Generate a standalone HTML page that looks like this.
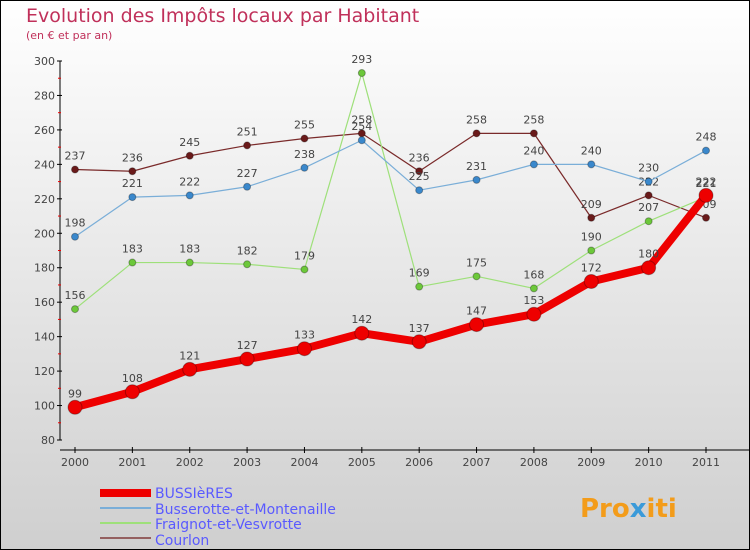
<!DOCTYPE html>
<html><head><meta charset="utf-8"><style>
body{margin:0;background:#fff}
#c{width:750px;height:550px;position:relative;overflow:hidden}
text{font-family:"DejaVu Sans","Liberation Sans",sans-serif}
</style></head><body>
<div id="c">
<svg id="s" width="750" height="550" xmlns="http://www.w3.org/2000/svg">
<defs><linearGradient id="bg" x1="0" y1="0" x2="0" y2="1"><stop offset="0" stop-color="#ffffff"/><stop offset="1" stop-color="#cfcfcf"/></linearGradient></defs>
<rect x="0.5" y="0.5" width="749" height="549" fill="url(#bg)" stroke="#000"/>
<text x="26" y="22" font-size="19" fill="#c0305a">Evolution des Impôts locaux par Habitant</text>
<text x="26" y="39" font-size="11" fill="#c0305a">(en € et par an)</text>
<g id="axes"></g><g id="series"></g>
<g>
<rect x="100" y="489" width="51" height="8" fill="#e00"/>
<text x="155" y="498" font-size="14" fill="#5a5aff">BUSSIèRES</text>
<rect x="100" y="507" width="51" height="2" fill="#7aaed8"/>
<text x="155" y="514" font-size="14" fill="#5a5aff">Busserotte-et-Montenaille</text>
<rect x="100" y="522" width="51" height="2" fill="#9ee07a"/>
<text x="155" y="529" font-size="14" fill="#5a5aff">Fraignot-et-Vesvrotte</text>
<rect x="100" y="537" width="51" height="2" fill="#946060"/>
<text x="155" y="545" font-size="14" fill="#5a5aff">Courlon</text>
</g>
<text x="580" y="517" font-size="26" font-weight="bold" fill="#f39c1a">Pro<tspan fill="#3a9ad9">x</tspan>iti</text>
</svg>
<script>
const years=["2000","2001","2002","2003","2004","2005","2006","2007","2008","2009","2010","2011"];
const yTicks=[80,100,120,140,160,180,200,220,240,260,280,300];
const bussieres=[99,108,121,127,133,142,137,147,153,172,180,222];
const busserotte=[198,221,222,227,238,254,225,231,240,240,230,248];
const fraignot=[156,183,183,182,179,293,169,175,168,190,207,221];
const courlon=[237,236,245,251,255,258,236,258,258,209,222,209];
const NS="http://www.w3.org/2000/svg";
function X(i){return 75+i*(706-75)/11;}
function Y(v){return 440-(v-80)*(379/220);}
function mk(tag,at,parent){const e=document.createElementNS(NS,tag);for(const k in at)e.setAttribute(k,at[k]);parent.appendChild(e);return e;}
const ax=document.getElementById('axes');
let l=mk('line',{x1:60,y1:Y(300),x2:60,y2:Y(80),stroke:'#000'},ax);


l=mk('line',{x1:60,y1:450,x2:750,y2:450,stroke:'#000'},ax);


yTicks.forEach((v,i)=>{
 mk('line',{x1:57,y1:Y(v),x2:62,y2:Y(v),stroke:'#000'},ax);
 if(i<yTicks.length-1)mk('line',{x1:58,y1:Y(v+10),x2:61,y2:Y(v+10),stroke:'#e00'},ax);
 const t=mk('text',{x:55,y:Y(v)+4,'font-size':11,fill:'#444','text-anchor':'end'},ax);
 t.textContent=v;
 
 
});
years.forEach((y,i)=>{
 mk('line',{x1:X(i),y1:447,x2:X(i),y2:453,stroke:'#000'},ax);
 const t=mk('text',{x:X(i),y:466,'font-size':11,fill:'#444','text-anchor':'middle'},ax);
 t.textContent=y;
 
 
});
const sg=document.getElementById('series');
function draw(data,name,color,dot,w,r){
 const g=mk('g',{},sg);
 
 
 const p=mk('polyline',{points:data.map((v,i)=>X(i)+','+Y(v)).join(' '),fill:'none',stroke:color,'stroke-width':w,'stroke-linejoin':'round'},g);
 
 
 data.forEach((v,i)=>{
  const c=mk('circle',{cx:X(i),cy:Y(v),r:r,fill:dot,stroke:'rgba(0,0,0,0.3)','stroke-width':1},g);
  
  
  const t=mk('text',{x:X(i),y:Y(v)-10,'font-size':11,fill:'#444','text-anchor':'middle'},g);
  t.textContent=v;
  
  
 });
}
draw(courlon,'courlon','#7a2a2a','#6a1a1a',1.2,3.5);
draw(fraignot,'fraignot','#9ee07a','#6cc83a',1.2,3.5);
draw(busserotte,'busserotte','#7aaed8','#3a88cc',1.2,3.5);
draw(bussieres,'bussieres','#e00','#e00',8,7);
</script>
</div></body></html>
